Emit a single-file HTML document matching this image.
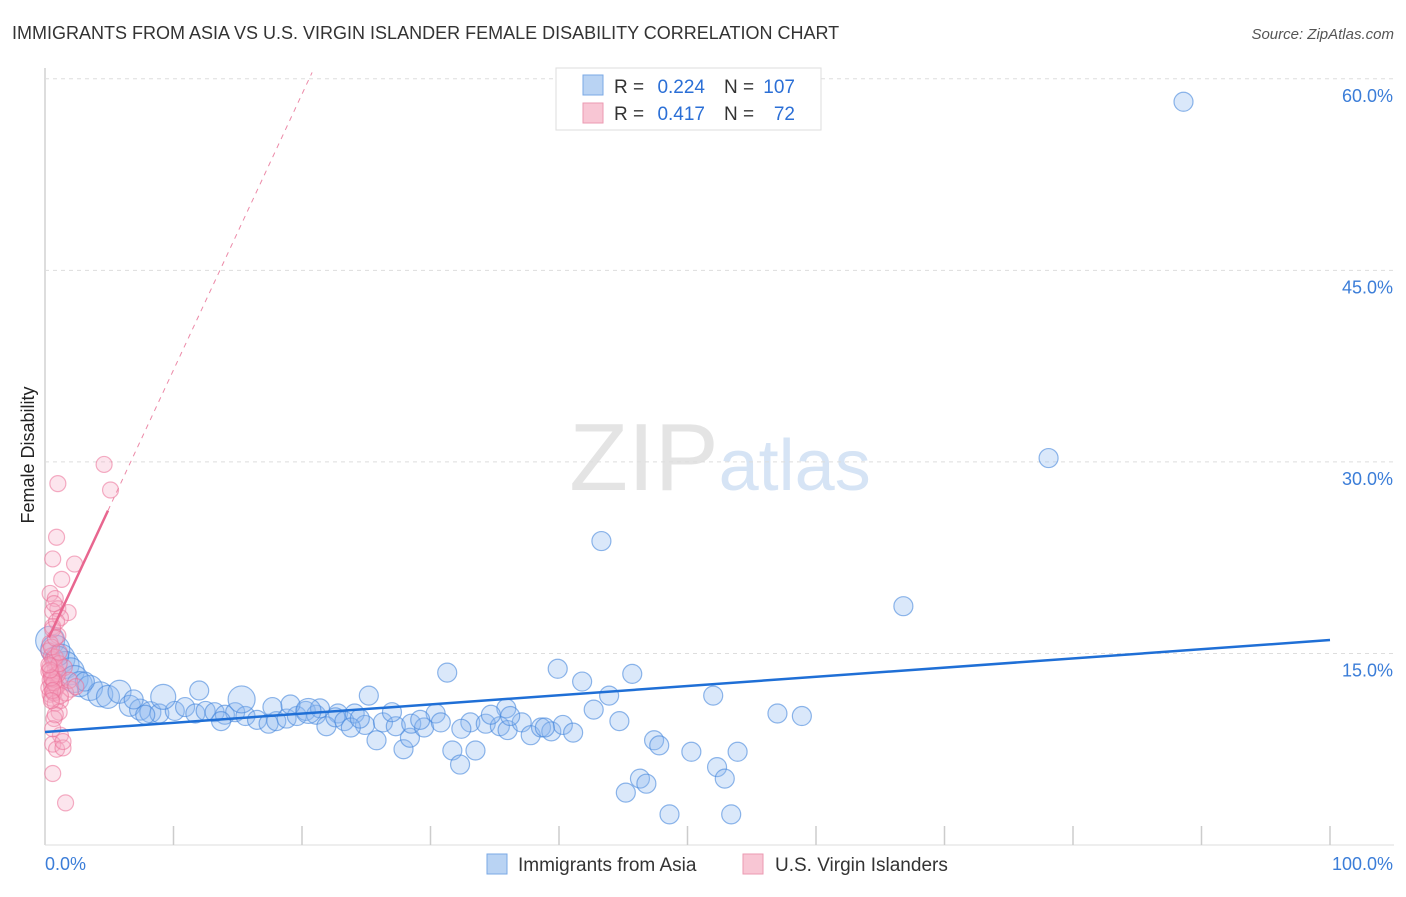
<!DOCTYPE html>
<html><head><meta charset="utf-8"><style>
body{margin:0;background:#fff;font-family:"Liberation Sans",sans-serif;}
svg text{font-family:"Liberation Sans",sans-serif;}
</style></head><body>
<svg id="c" width="1406" height="892" xmlns="http://www.w3.org/2000/svg">
<text x="12" y="39" font-size="18" fill="#333">IMMIGRANTS FROM ASIA VS U.S. VIRGIN ISLANDER FEMALE DISABILITY CORRELATION CHART</text>
<text x="1394" y="39" font-size="15" fill="#555" font-style="italic" text-anchor="end">Source: ZipAtlas.com</text>
<text x="34" y="455" font-size="18" fill="#222" transform="rotate(-90 34 455)" text-anchor="middle">Female Disability</text>
<text x="720" y="490" font-size="96" fill="#e4e4e4" text-anchor="middle" font-family="Liberation Serif">ZIP<tspan fill="#d6e4f5" font-family="Liberation Sans" font-size="72">atlas</tspan></text>
<g id="grid"></g><g id="marks"></g>
<g>
<rect x="556" y="68" width="265" height="62" fill="#fff" stroke="#ddd"/>
<rect x="583" y="75" width="20" height="20" fill="#b9d3f3" stroke="#7aa8e6"/>
<rect x="583" y="103" width="20" height="20" fill="#f8c6d4" stroke="#eb9ab2"/>
<text x="614" y="93" font-size="19" fill="#333">R =</text>
<text x="705" y="93" font-size="19" fill="#2b6fd6" text-anchor="end">0.224</text>
<text x="724" y="93" font-size="19" fill="#333">N =</text>
<text x="795" y="93" font-size="19" fill="#2b6fd6" text-anchor="end">107</text>
<text x="614" y="120" font-size="19" fill="#333">R =</text>
<text x="705" y="120" font-size="19" fill="#2b6fd6" text-anchor="end">0.417</text>
<text x="724" y="120" font-size="19" fill="#333">N =</text>
<text x="795" y="120" font-size="19" fill="#2b6fd6" text-anchor="end">72</text>
</g>
<g>
<rect x="487" y="854" width="20" height="20" fill="#b9d3f3" stroke="#7aa8e6"/>
<text x="518" y="871" font-size="19" fill="#333">Immigrants from Asia</text>
<rect x="743" y="854" width="20" height="20" fill="#f8c6d4" stroke="#eb9ab2"/>
<text x="775" y="871" font-size="19" fill="#333">U.S. Virgin Islanders</text>
</g>
</svg>
<script>
const yTicks=[15,30,45,60];
const yTickLabels=["15.0%","30.0%","45.0%","60.0%"];
const xTickLabels=["0.0%","100.0%"];
const blueX=[88.6,78.1,43.3,66.8,31.3,39.9,45.7,41.8,43.9,52,42.7,44.7,57,58.9,47.4,47.8,50.3,53.9,52.3,52.9,46.3,46.8,45.2,48.6,53.4,33.5,31.7,32.3,27.9,28.4,25.8,22.8,30.4,
0.4,0.8,1.2,1.6,2,2.3,2.7,3.5,4.3,4.9,5.8,6.6,7.4,8.2,8.9,10.1,10.9,11.7,12.5,13.2,14,14.8,15.6,16.5,17.4,18,18.8,19.6,20.3,21.1,21.9,22.6,23.3,24.1,24.9,26.3,27.3,28.5,29.5,30.8,33.1,34.3,35.4,36,37.1,37.8,38.6,39.4,40.3,41.1,25.2,19.1,17.7,13.7,35.9,34.7,36.2,38.9,32.4,29.2,27,23.8,21.4,20.5,15.3,12,9.2,6.9,3.1,1.1,7.8,24.5,44.9,40.4];
const blueY=[58.2,30.3,23.8,18.7,13.5,13.8,13.4,12.8,11.7,11.7,10.6,9.7,10.3,10.1,8.2,7.8,7.3,7.3,6.1,5.2,5.2,4.8,4.1,2.4,2.4,7.4,7.4,6.3,7.5,8.4,8.2,10.3,10.3,
16,15.3,14.6,14.1,13.6,13,12.6,12.3,11.8,11.6,12,10.9,10.6,10.4,10.3,10.5,10.8,10.3,10.5,10.4,10.2,10.4,10.1,9.8,9.5,9.7,9.9,10.1,10.5,10.2,9.3,10,9.7,10.3,9.4,9.6,9.3,9.5,9.2,9.6,9.6,9.5,9.3,9,9.6,8.6,9.2,8.9,9.4,8.8,11.7,11,10.8,9.7,10.7,10.2,10.1,9.2,9.1,9.8,10.4,9.2,10.7,10.5,11.4,12.1,11.6,11.4,12.8,14.8,10.2,9.9,9.5,9.9];
const blueR=[9,9,9,9,9,9,9,9,9,9,9,9,9,9,9,9,9,9,9,9,9,9,9,9,9,9,9,9,9,9,9,9,9,
14,14,14,13,13,13,12,12,12,11,11,10,10,10,9,9,9,9,9,9,9,9,9,9,9,9,9,9,9,9,9,9,9,9,9,9,9,9,9,9,9,9,9,9,9,9,9,9,9,9,9,9,9,9,9,9,9,9,9,9,9,9,9,12,13,9,12,9,9,9,9,9];
const pinkX=[4.6,1,5.1,0.9,0.6,2.3,1.3,0.4,0.8,1,1.8,0.6,1.2,0.6,1,0.4,0.3,0.5,0.6,0.7,0.4,0.8,0.3,0.5,0.9,0.6,0.4,0.7,1.1,0.5,0.3,0.8,0.6,0.4,0.5,1.2,0.7,0.9,0.6,1.5,2,0.8,1.1,0.7,1.2,0.6,0.9,1.4,0.6,1.6,0.8,0.5,0.6,0.9,0.7,1,0.7,1.1,0.5,1.6,1.2,0.8,0.6,0.4,0.3,1.1,0.8,0.5,1.4,0.6,1.9,2.4];
const pinkY=[29.8,28.3,27.8,24.1,22.4,22,20.8,19.7,19.3,18.5,18.2,18.3,17.8,17.1,16.4,15.8,15.2,14.8,14.5,14.3,14,13.8,13.6,13.5,13.3,13.1,12.9,12.8,12.6,12.5,12.3,12.2,12,11.8,11.5,11.3,11.9,12.4,13,13.9,12.2,11.1,10.4,9.9,8.6,7.9,7.5,7.6,5.6,3.3,14.7,15.5,16.9,17.5,18.9,13.4,12.7,14.2,13.1,11.9,11.7,10.2,12.1,13.7,14.1,15.1,16.2,11.3,8.1,9.1,12.9,12.4];
const blueTrend=[8.85,0.072], pinkTrend=[15.6,2.16], pinkSolidEnd=4.9;
const NS="http://www.w3.org/2000/svg";
const X=v=>45+v*12.85, Y=v=>845-v*12.77;
function mk(t,a,p){const e=document.createElementNS(NS,t);for(const k in a)e.setAttribute(k,a[k]);p.appendChild(e);return e;}
const g=document.getElementById('grid'),m=document.getElementById('marks');
mk('line',{x1:45,y1:68,x2:45,y2:845,stroke:'#bbb'},g);
mk('line',{x1:45,y1:845,x2:1394,y2:845,stroke:'#ddd'},g);
yTicks.forEach((t,i)=>{
 const l=mk('line',{x1:45,y1:Y(t),x2:1394,y2:Y(t),stroke:'#ddd','stroke-dasharray':'4,4'},g);
 
 
 const tx=mk('text',{x:1393,y:Y(t)+23,'font-size':18,fill:'#3b7dd8','text-anchor':'end'},g);tx.textContent=yTickLabels[i];
 
 
});
for(let i=1;i<=10;i++){const l=mk('line',{x1:X(i*10),y1:826,x2:X(i*10),y2:845,stroke:'#ccc','stroke-width':1.5},g);
 
 }
[[0,'start',45],[100,'end',1393]].forEach((d,i)=>{const t=mk('text',{x:d[2],y:870,'font-size':18,fill:'#3b7dd8','text-anchor':d[1]},g);t.textContent=xTickLabels[i];
 
 });
blueX.forEach((x,i)=>{const c=mk('circle',{cx:X(x),cy:Y(blueY[i]),r:blueR[i]+0.5,fill:'rgba(140,182,238,0.32)',stroke:'rgba(70,135,220,0.6)','stroke-width':1.2},m);
 
 });
pinkX.forEach((x,i)=>{const c=mk('circle',{cx:X(x),cy:Y(pinkY[i]),r:8,fill:'rgba(245,170,195,0.3)',stroke:'rgba(235,110,150,0.55)','stroke-width':1.2},m);
 
 });
const bl=mk('line',{x1:X(0),y1:Y(blueTrend[0]),x2:X(100),y2:Y(blueTrend[0]+100*blueTrend[1]),stroke:'#1f6fd6','stroke-width':2.5},m);


const xEnd=(60.5-pinkTrend[0])/pinkTrend[1];
const pd=mk('line',{x1:X(pinkSolidEnd),y1:Y(pinkTrend[0]+pinkSolidEnd*pinkTrend[1]),x2:X(xEnd),y2:Y(60.5),stroke:'#ec8aa8','stroke-width':1,'stroke-dasharray':'5,5'},m);


const pl=mk('line',{x1:X(0.3),y1:Y(pinkTrend[0]+0.3*pinkTrend[1]),x2:X(pinkSolidEnd),y2:Y(pinkTrend[0]+pinkSolidEnd*pinkTrend[1]),stroke:'#e8668f','stroke-width':2.5},m);


</script>
</body></html>
